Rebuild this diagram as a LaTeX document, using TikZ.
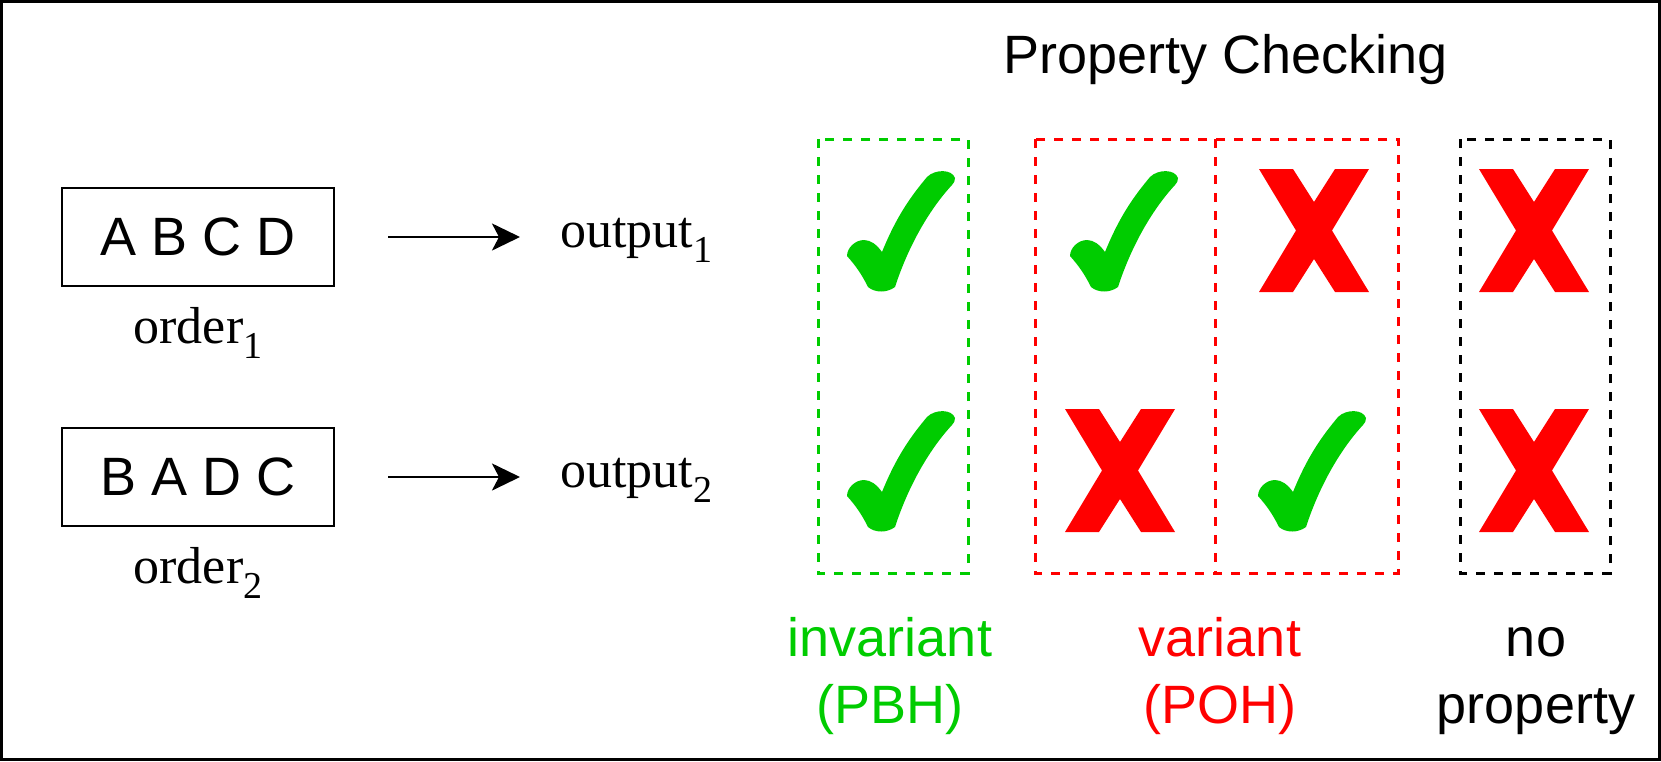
\documentclass[tikz,border=0pt]{standalone}
\usepackage{fontspec}
\setmainfont{Liberation Sans}
\newfontfamily\timesface{Liberation Serif}
\usepackage{tikz}
\usetikzlibrary{arrows.meta}
\definecolor{Invariant}{HTML}{00CC00}
\definecolor{Variant}{HTML}{FF0000}
\newcommand{\lowsub}[1]{\raisebox{-7.5pt}{\fontsize{19}{19}\selectfont #1}}
\tikzset{
  sanstext/.style={font=\fontsize{27}{31}\selectfont, inner sep=0pt, anchor=base},
  seriftext/.style={font=\timesface\fontsize{26}{30}\selectfont, inner sep=0pt, anchor=base},
  orderbox/.style={draw, line width=1.1pt, minimum width=136pt, minimum height=49pt, inner sep=0pt, font=\fontsize{27}{31}\selectfont},
  groupbox/.style={dash pattern=on 4.5pt off 4.5pt, line width=1.5pt},
  flow/.style={-{Stealth[length=14pt,width=13.5pt,inset=3.5pt]}, line width=1.35pt},
  tickmark/.pic={
    \fill [Invariant] (35,82) .. controls (50,45) and (65,25) .. (80,7)
      .. controls (88,-1) and (105,-1) .. (108,8)
      .. controls (108,11) and (107,13) .. (105,15)
      .. controls (80,42) and (60,80) .. (48,117)
      .. controls (40,123) and (28,123) .. (21,117)
      .. controls (14,103) and (8,95) .. (0,86)
      .. controls (0,78) and (8,70) .. (17,70)
      .. controls (24,70) and (30,75) .. (35,82) -- cycle;
  },
  crossmark/.pic={
    \fill [Variant] (0,0) -- (34,0) -- (55,33) -- (76,0) -- (110,0) -- (73,61.5)
      -- (110,123) -- (76,123) -- (55,90) -- (34,123) -- (0,123) -- (37,61.5) -- cycle;
  }
}

\begin{document}
\begin{tikzpicture}[x=0.5pt,y=-0.5pt]
\useasboundingbox (0,0) rectangle (1661,761);
% Frame
\draw [line width=1.5pt] (1.5,1.5) rectangle (1659.5,759.5);
% Orders
\node (box1) [orderbox] at (198,237) {A B C D};
\node (ord1) [seriftext] at (198,343) {order\lowsub{1}};
\node (box2) [orderbox] at (198,477) {B A D C};
\node (ord2) [seriftext] at (198,583) {order\lowsub{2}};
% Outputs
\node (out1) [seriftext,anchor=base west] at (560,247) {output\lowsub{1}};
\node (out2) [seriftext,anchor=base west] at (560,487) {output\lowsub{2}};
\draw [flow,shorten <=26.5pt,shorten >=20pt] (box1.east) -- (box1.east -| out1.west);
\draw [flow,shorten <=26.5pt,shorten >=20pt] (box2.east) -- (box2.east -| out2.west);
% Title
\node (title) [sanstext] at (1226,73) {Property Checking};
% Groups
\draw [groupbox,Invariant] (818,139) rectangle (968,573);
\draw [groupbox,Variant] (1035,139) rectangle (1398,573);
\draw [groupbox,Variant] (1215,139) -- (1215,573);
\draw [groupbox] (1460,139) rectangle (1610,573);
% Marks, first output
\pic at (847,170) {tickmark};
\pic at (1070,170) {tickmark};
\pic at (1259,169) {crossmark};
\pic at (1479,169) {crossmark};
% Marks, second output
\pic at (847,410) {tickmark};
\pic at (1065,409) {crossmark};
\pic at (1258,410) {tickmark};
\pic at (1479,409) {crossmark};
% Labels
\node (inv) [sanstext,Invariant] at (890,656) {invariant};
\node (pbh) [sanstext,Invariant] at (890,723) {(PBH)};
\node (var) [sanstext,Variant] at (1220,656) {variant};
\node (poh) [sanstext,Variant] at (1220,723) {(POH)};
\node (no) [sanstext] at (1536,656) {no};
\node (prop) [sanstext] at (1536,723) {property};
\end{tikzpicture}
\end{document}
